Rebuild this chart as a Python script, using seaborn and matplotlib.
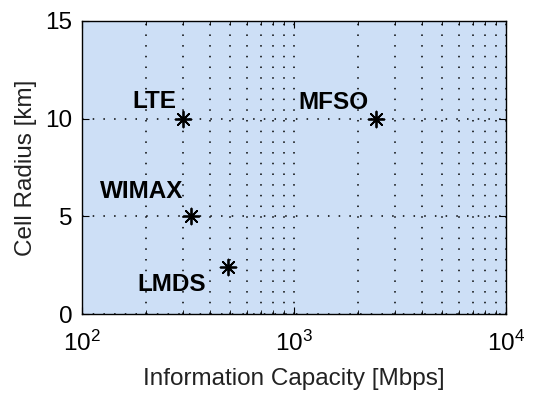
import pandas as pd
import seaborn as sns
import matplotlib.pyplot as plt

techs = ["LTE", "WIMAX", "LMDS", "MFSO"]
capacity = [300, 325, 490, 2450]
radius = [10, 5, 2.4, 10]
label_offsets = [(-5, 8), (-5, 13), (-16, -4), (-6, 7)]

data = pd.DataFrame({"Tech": techs, "Capacity": capacity, "Radius": radius})

sns.set_style("ticks")
plt.rcParams['font.family'] = ['Liberation Sans', 'DejaVu Sans']
plt.rcParams['mathtext.fontset'] = 'custom'
plt.rcParams['mathtext.rm'] = 'Liberation Sans'
plt.rcParams['text.color'] = 'black'
plt.rcParams['axes.labelcolor'] = 'black'
plt.rcParams['xtick.color'] = 'black'
plt.rcParams['ytick.color'] = 'black'

fig, ax = plt.subplots(figsize=(5.44, 3.96), dpi=100)
fig.subplots_adjust(left=0.151, right=0.93, top=0.947, bottom=0.207)
ax.set_facecolor("#cddff6")

sns.scatterplot(x="Capacity", y="Radius", data=data, marker=(8, 2, 0), s=130,
                color="black", linewidth=1.3, ax=ax, zorder=3)

for t, x, y, (dx, dy) in zip(techs, capacity, radius, label_offsets):
    ax.annotate(t, (x, y), xytext=(dx, dy), textcoords="offset points",
                ha="right", va="baseline" if dy > 0 else "top",
                fontsize=17.5, fontweight="bold", color="black")

ax.set_xscale("log")
ax.set_xlim(100, 10000)
ax.set_ylim(0, 15)
ax.set_yticks([0, 5, 10, 15])
ax.grid(True, which="major", axis="both", color="black", linestyle=(0, (1, 6)), linewidth=1.1)
ax.grid(True, which="minor", axis="x", color="black", linestyle=(0, (1, 6)), linewidth=1.1)
ax.tick_params(which="both", direction="in", top=True, right=True, labelsize=17.5)
ax.tick_params(axis="y", pad=7)
ax.tick_params(axis="x", pad=12)
ax.tick_params(which="major", length=5)
ax.tick_params(which="minor", length=3)
for s in ax.spines.values():
    s.set_linewidth(1.0)
    s.set_color("black")

ax.set_xlabel("Information Capacity [Mbps]", fontsize=17.5, color="#222222", labelpad=9)
ax.set_ylabel("Cell Radius [km]", fontsize=17.5, color="#222222", labelpad=6)

plt.savefig("out.png", dpi=100)
